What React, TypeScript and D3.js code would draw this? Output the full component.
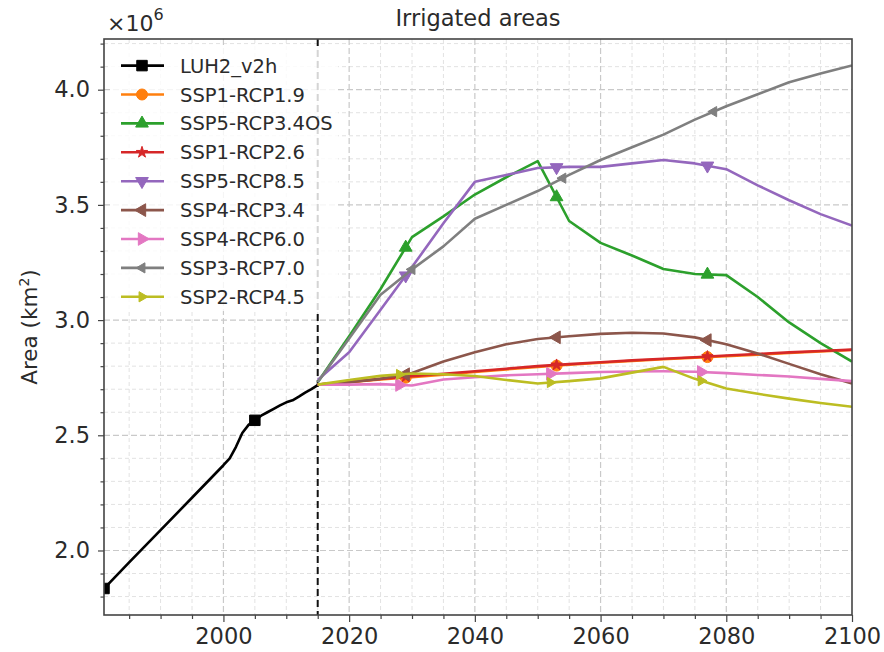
import { useEffect, useRef } from "react";
import * as d3 from "d3";

// historical LUH2 irrigated area (10^6 km2)
const luhYears = [1981, 1985, 1990, 1995, 2000, 2001, 2002, 2003, 2004, 2005, 2006, 2007, 2008, 2009, 2010, 2011, 2012, 2013, 2014, 2015];
const luhValues = [1.835, 1.948, 2.088, 2.229, 2.37, 2.4, 2.45, 2.51, 2.545, 2.565, 2.585, 2.6, 2.615, 2.63, 2.643, 2.652, 2.668, 2.685, 2.7, 2.718];

// scenarios
const scenarioYears = [2015, 2020, 2025, 2030, 2035, 2040, 2045, 2050, 2055, 2060, 2065, 2070, 2075, 2080, 2085, 2090, 2095, 2100];
const ssp1rcp19 = [2.72, 2.73, 2.742, 2.752, 2.763, 2.775, 2.786, 2.797, 2.806, 2.815, 2.823, 2.83, 2.837, 2.843, 2.85, 2.857, 2.864, 2.87];
const ssp5rcp34os = [2.73, 2.93, 3.135, 3.36, 3.45, 3.545, 3.62, 3.69, 3.43, 3.335, 3.28, 3.222, 3.2, 3.195, 3.1, 2.99, 2.9, 2.82];
const ssp1rcp26 = [2.72, 2.732, 2.745, 2.756, 2.767, 2.778, 2.789, 2.8, 2.809, 2.817, 2.825, 2.832, 2.839, 2.846, 2.853, 2.86, 2.866, 2.872];
const ssp5rcp85 = [2.74, 2.86, 3.045, 3.23, 3.42, 3.6, 3.63, 3.66, 3.665, 3.665, 3.68, 3.695, 3.68, 3.655, 3.585, 3.52, 3.46, 3.41];
const ssp4rcp34 = [2.72, 2.73, 2.745, 2.77, 2.82, 2.86, 2.895, 2.918, 2.93, 2.94, 2.945, 2.942, 2.925, 2.895, 2.855, 2.81, 2.765, 2.725];
const ssp4rcp60 = [2.72, 2.72, 2.722, 2.716, 2.742, 2.752, 2.76, 2.765, 2.77, 2.775, 2.777, 2.778, 2.776, 2.77, 2.762, 2.755, 2.745, 2.735];
const ssp3rcp70 = [2.73, 2.92, 3.11, 3.22, 3.32, 3.44, 3.5, 3.56, 3.63, 3.695, 3.75, 3.805, 3.87, 3.928, 3.98, 4.032, 4.07, 4.105];
const ssp2rcp45 = [2.72, 2.74, 2.758, 2.768, 2.765, 2.757, 2.74, 2.725, 2.735, 2.747, 2.772, 2.797, 2.745, 2.703, 2.68, 2.659, 2.64, 2.624];

const xTicks = [2000, 2020, 2040, 2060, 2080, 2100];
const yTicks = [2.0, 2.5, 3.0, 3.5, 4.0];

const series = [
  { name: "LUH2_v2h", color: "#000000", years: luhYears, values: luhValues, marker: "square", markerYears: [1981, 2005] },
  { name: "SSP1-RCP1.9", color: "#ff7f0e", years: scenarioYears, values: ssp1rcp19, marker: "circle", markerYears: [2029, 2053, 2077] },
  { name: "SSP5-RCP3.4OS", color: "#2ca02c", years: scenarioYears, values: ssp5rcp34os, marker: "up", markerYears: [2029, 2053, 2077] },
  { name: "SSP1-RCP2.6", color: "#d62728", years: scenarioYears, values: ssp1rcp26, marker: "star", markerYears: [2029, 2053, 2077] },
  { name: "SSP5-RCP8.5", color: "#9467bd", years: scenarioYears, values: ssp5rcp85, marker: "down", markerYears: [2029, 2053, 2077] },
  { name: "SSP4-RCP3.4", color: "#8c564b", years: scenarioYears, values: ssp4rcp34, marker: "left", markerYears: [2029, 2053, 2077] },
  { name: "SSP4-RCP6.0", color: "#e377c2", years: scenarioYears, values: ssp4rcp60, marker: "right", markerYears: [2028, 2052, 2076] },
  { name: "SSP3-RCP7.0", color: "#7f7f7f", years: scenarioYears, values: ssp3rcp70, marker: "smallLeft", markerYears: [2030, 2054, 2078] },
  { name: "SSP2-RCP4.5", color: "#bcbd22", years: scenarioYears, values: ssp2rcp45, marker: "smallRight", markerYears: [2028, 2052, 2076] },
];

const FONT = "DejaVu Sans, sans-serif";

function markerPath(kind: string) {
  const sym = d3.symbol();
  switch (kind) {
    case "square":
      return { d: sym.type(d3.symbolSquare).size(110)(), rot: 0 };
    case "circle":
      return { d: sym.type(d3.symbolCircle).size(95)(), rot: 0 };
    case "star":
      return { d: sym.type(d3.symbolStar).size(40)(), rot: 0 };
    case "up":
      return { d: sym.type(d3.symbolTriangle).size(70)(), rot: 0 };
    case "down":
      return { d: sym.type(d3.symbolTriangle).size(70)(), rot: 180 };
    case "left":
      return { d: sym.type(d3.symbolTriangle).size(70)(), rot: -90 };
    case "right":
      return { d: sym.type(d3.symbolTriangle).size(70)(), rot: 90 };
    case "smallLeft":
      return { d: sym.type(d3.symbolTriangle).size(45)(), rot: -90 };
    default:
      return { d: sym.type(d3.symbolTriangle).size(45)(), rot: 90 };
  }
}

function IrrigatedChart() {
  const svgRef = useRef<SVGSVGElement | null>(null);

  useEffect(() => {
    const svgElement = svgRef.current;
    if (!svgElement) return;

    const width = 884;
    const height = 652;
    const left = 104;
    const right = 852;
    const top = 39;
    const bottom = 615;

    const svg = d3.select(svgElement);
    svg.selectAll("*").remove();
    svg.attr("width", width).attr("height", height);

    svg.append("rect").attr("width", width).attr("height", height).attr("fill", "#fff");

    const x = d3.scaleLinear().domain([1981, 2100]).range([left, right]);
    const y = d3.scaleLinear().domain([1.72, 4.22]).range([bottom, top]);

    svg
      .append("clipPath")
      .attr("id", "plot-clip")
      .append("rect")
      .attr("x", left)
      .attr("y", top)
      .attr("width", right - left)
      .attr("height", bottom - top);

    // grid
    const grid = svg.append("g");
    const minorX = d3.range(1985, 2100, 5).filter((d) => d % 20 !== 0);
    const minorY = d3.range(18, 43, 1).map((d) => d / 10).filter((d) => Math.round(d * 10) % 5 !== 0);

    grid
      .selectAll(".vminor")
      .data(minorX)
      .enter()
      .append("line")
      .attr("x1", (d) => x(d))
      .attr("x2", (d) => x(d))
      .attr("y1", top)
      .attr("y2", bottom)
      .attr("stroke", "#e2e2e2")
      .attr("stroke-width", 1)
      .attr("stroke-dasharray", "4,3");

    grid
      .selectAll(".hminor")
      .data(minorY)
      .enter()
      .append("line")
      .attr("x1", left)
      .attr("x2", right)
      .attr("y1", (d) => y(d))
      .attr("y2", (d) => y(d))
      .attr("stroke", "#e2e2e2")
      .attr("stroke-width", 1)
      .attr("stroke-dasharray", "4,3");

    grid
      .selectAll(".vmajor")
      .data(xTicks.filter((d) => d < 2100))
      .enter()
      .append("line")
      .attr("x1", (d) => x(d))
      .attr("x2", (d) => x(d))
      .attr("y1", top)
      .attr("y2", bottom)
      .attr("stroke", "#c9c9c9")
      .attr("stroke-width", 1.2)
      .attr("stroke-dasharray", "6,3");

    grid
      .selectAll(".hmajor")
      .data(yTicks)
      .enter()
      .append("line")
      .attr("x1", left)
      .attr("x2", right)
      .attr("y1", (d) => y(d))
      .attr("y2", (d) => y(d))
      .attr("stroke", "#c9c9c9")
      .attr("stroke-width", 1.2)
      .attr("stroke-dasharray", "6,3");

    // 2015 separator
    svg
      .append("line")
      .attr("x1", x(2015))
      .attr("x2", x(2015))
      .attr("y1", top)
      .attr("y2", bottom)
      .attr("stroke", "#111")
      .attr("stroke-width", 2)
      .attr("stroke-dasharray", "7,4");

    // lines
    const plot = svg.append("g").attr("clip-path", "url(#plot-clip)");
    series.forEach((s) => {
      const pts = s.years.map((yr, i) => [yr, s.values[i]] as [number, number]);
      const line = d3
        .line<[number, number]>()
        .x((d) => x(d[0]))
        .y((d) => y(d[1]));
      plot
        .append("path")
        .datum(pts)
        .attr("fill", "none")
        .attr("stroke", s.color)
        .attr("stroke-width", 2.6)
        .attr("stroke-linejoin", "round")
        .attr("d", line);

      const along = d3.scaleLinear().domain(s.years).range(s.values);
      const m = markerPath(s.marker);
      plot
        .selectAll(null)
        .data(s.markerYears)
        .enter()
        .append("path")
        .attr("d", m.d)
        .attr("transform", (d) => `translate(${x(d)},${y(along(d))}) rotate(${m.rot})`)
        .attr("fill", s.color)
        .attr("stroke", s.color)
        .attr("stroke-width", 1);
    });

    // legend (semi-transparent white box, no frame)
    const legend = svg.append("g");
    legend
      .append("rect")
      .attr("x", 110)
      .attr("y", 46)
      .attr("width", 228)
      .attr("height", 265)
      .attr("rx", 4)
      .attr("fill", "#ffffff")
      .attr("fill-opacity", 0.82);

    series.forEach((s, i) => {
      const cy = 65.6 + i * 28.9;
      legend
        .append("line")
        .attr("x1", 121)
        .attr("x2", 164)
        .attr("y1", cy)
        .attr("y2", cy)
        .attr("stroke", s.color)
        .attr("stroke-width", 2.6);
      const m = markerPath(s.marker);
      legend
        .append("path")
        .attr("d", m.d)
        .attr("transform", `translate(142,${cy}) rotate(${m.rot})`)
        .attr("fill", s.color)
        .attr("stroke", s.color)
        .attr("stroke-width", 1);
      legend
        .append("text")
        .attr("x", 180)
        .attr("y", cy)
        .attr("dy", "0.36em")
        .attr("font-family", FONT)
        .attr("font-size", 19.5)
        .attr("fill", "#2b2b2b")
        .text(s.name);
    });

    // axes
    const xAxis = svg
      .append("g")
      .attr("transform", `translate(0,${bottom})`)
      .call(d3.axisBottom(x).tickValues(xTicks).tickSize(7).tickPadding(6).tickFormat(d3.format("d")));
    svg
      .append("g")
      .attr("transform", `translate(0,${bottom})`)
      .call(d3.axisBottom(x).tickValues(minorX).tickSize(4).tickFormat(() => ""));
    const yAxis = svg
      .append("g")
      .attr("transform", `translate(${left},0)`)
      .call(d3.axisLeft(y).tickValues(yTicks).tickSize(6).tickPadding(8).tickFormat(d3.format(".1f")));
    svg
      .append("g")
      .attr("transform", `translate(${left},0)`)
      .call(d3.axisLeft(y).tickValues(minorY).tickSize(3.5).tickFormat(() => ""));

    svg.selectAll(".domain").remove();
    svg.selectAll(".tick line").attr("stroke", "#444").attr("stroke-width", 1.2);
    [xAxis, yAxis].forEach((a) =>
      a.selectAll("text").attr("font-family", FONT).attr("font-size", 22.5).attr("fill", "#2b2b2b")
    );

    // frame
    svg
      .append("rect")
      .attr("x", left)
      .attr("y", top)
      .attr("width", right - left)
      .attr("height", bottom - top)
      .attr("fill", "none")
      .attr("stroke", "#444")
      .attr("stroke-width", 1.6);

    // title and labels
    svg
      .append("text")
      .attr("x", (left + right) / 2)
      .attr("y", 26)
      .attr("text-anchor", "middle")
      .attr("font-family", FONT)
      .attr("font-size", 22.5)
      .attr("fill", "#2b2b2b")
      .text("Irrigated areas");

    const exp = svg
      .append("text")
      .attr("x", 107)
      .attr("y", 31)
      .attr("font-family", FONT)
      .attr("font-size", 22)
      .attr("fill", "#2b2b2b");
    exp.append("tspan").text("×10");
    exp.append("tspan").attr("dy", -11).attr("font-size", 16).text("6");

    const yl = svg
      .append("text")
      .attr("transform", `translate(37,${(top + bottom) / 2}) rotate(-90)`)
      .attr("text-anchor", "middle")
      .attr("font-family", FONT)
      .attr("font-size", 21.5)
      .attr("fill", "#2b2b2b");
    yl.append("tspan").text("Area (km");
    yl.append("tspan").attr("dy", -8).attr("font-size", 14).text("2");
    yl.append("tspan").attr("dy", 8).text(")");
  }, []);

  return <svg ref={svgRef} style={{ position: "absolute", left: 0, top: 0, width: 884, height: 652 }} role="img" aria-label="Irrigated areas" />;
}

export default function App() {
  return <IrrigatedChart />;
}
